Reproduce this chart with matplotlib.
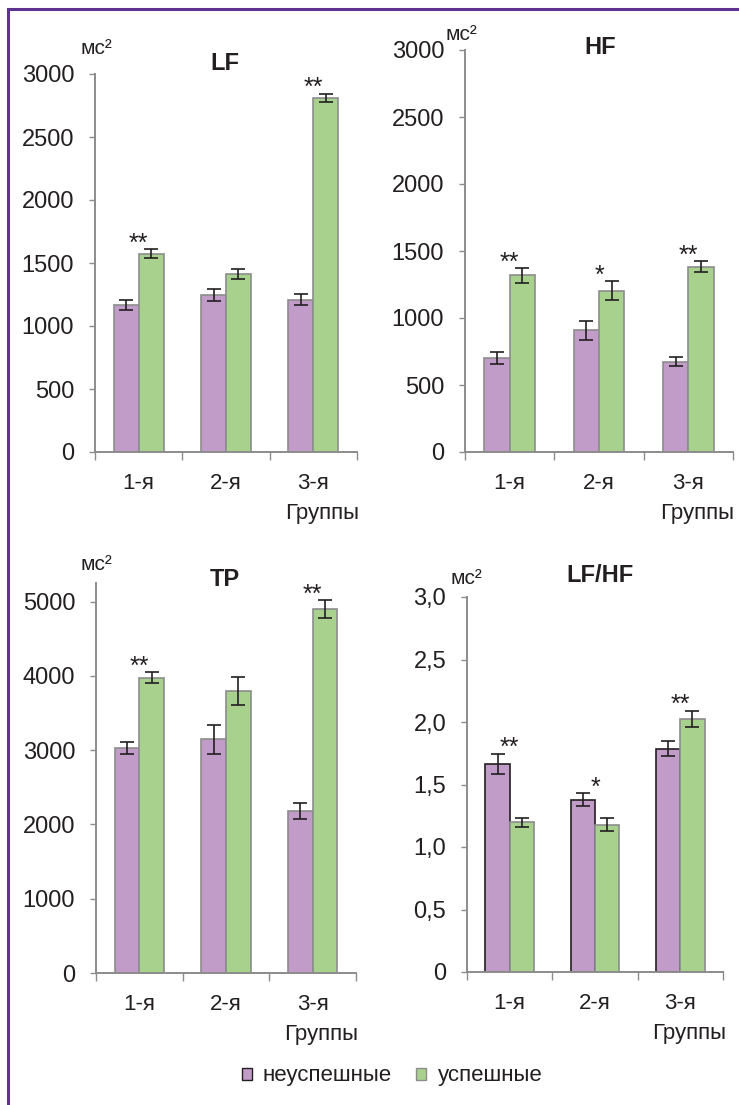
import matplotlib
matplotlib.use("Agg")
import matplotlib.pyplot as plt
from matplotlib.patches import Patch
from matplotlib.lines import Line2D
import numpy as np

plt.rcParams['font.family'] = ['Liberation Sans', 'DejaVu Sans']

# --- Données ---
groups = ['1-я', '2-я', '3-я']
series_names = ['неуспешные', 'успешные']

lf_fail = [1170, 1245, 1210]
lf_fail_err = [40, 45, 46]
lf_succ = [1575, 1415, 2810]
lf_succ_err = [33, 40, 33]
lf_stars = ['**', '', '**']

hf_fail = [700, 908, 675]
hf_fail_err = [46, 70, 35]
hf_succ = [1318, 1205, 1383]
hf_succ_err = [55, 68, 39]
hf_stars = ['**', '*', '**']

tp_fail = [3030, 3145, 2180]
tp_fail_err = [85, 193, 105]
tp_succ = [3975, 3795, 4895]
tp_succ_err = [72, 189, 121]
tp_stars = ['**', '', '**']

ratio_fail = [1.667, 1.379, 1.787]
ratio_fail_err = [0.08, 0.05, 0.062]
ratio_succ = [1.20, 1.179, 2.027]
ratio_succ_err = [0.036, 0.05, 0.064]
ratio_stars = ['**', '*', '**']

lf_ticks = [0, 500, 1000, 1500, 2000, 2500, 3000]
tp_ticks = [0, 1000, 2000, 3000, 4000, 5000]
ratio_ticks = [0, 0.5, 1.0, 1.5, 2.0, 2.5, 3.0]
ratio_ticklabels = ['0', '0,5', '1,0', '1,5', '2,0', '2,5', '3,0']

PURPLE = '#C29CC8'
GREEN = '#A8D18D'
SPINE = '#8C8C8C'
TEXT = '#231F20'
FRAME = '#5E3390'

W, H = 739, 1105


def rect(l, t, r, b):
    """Rectangle d'axes en pixels -> coordonnées figure."""
    return [l / W, 1 - b / H, (r - l) / W, (b - t) / H]


def draw_panel(fig, box, fail, fail_err, succ, succ_err, stars,
               ymax, ticks, ticklabels=None, dark_edge=False):
    ax = fig.add_axes(rect(*box))
    x = np.arange(len(groups)) + 0.5
    w = 0.285
    ax.bar(x - w / 2, fail, w, color=PURPLE,
           edgecolor=TEXT if dark_edge else SPINE, linewidth=1.2, zorder=2)
    ax.bar(x + w / 2, succ, w, color=GREEN, edgecolor=SPINE, linewidth=1.2, zorder=2)
    ax.errorbar(x - w / 2, fail, yerr=fail_err, fmt='none', ecolor=TEXT,
                elinewidth=1.2, capsize=5, capthick=1.2, zorder=3)
    ax.errorbar(x + w / 2, succ, yerr=succ_err, fmt='none', ecolor=TEXT,
                elinewidth=1.2, capsize=5, capthick=1.2, zorder=3)

    # astérisques de significativité, au-dessus de la barre la plus haute
    for i, s in enumerate(stars):
        if not s:
            continue
        top = max(fail[i] + fail_err[i], succ[i] + succ_err[i])
        ax.annotate(s, xy=(x[i], top), xytext=(0, -1), textcoords='offset points',
                    ha='center', va='baseline', fontsize=18, color=TEXT)

    ax.set_xlim(0, len(groups))
    ax.set_ylim(0, ymax)
    ax.set_yticks(ticks)
    if ticklabels is not None:
        ax.set_yticklabels(ticklabels)

    # graduations aux limites des groupes, étiquettes au centre
    ax.set_xticks(np.arange(len(groups) + 1))
    ax.set_xticklabels([])
    ax.set_xticks(x, minor=True)
    ax.set_xticklabels(groups, minor=True)
    ax.tick_params(axis='x', which='major', length=6, width=1, color=SPINE, direction='out')
    ax.tick_params(axis='x', which='minor', length=0, pad=15, labelsize=16, labelcolor=TEXT)
    ax.tick_params(axis='y', length=4, width=1, color=SPINE, pad=11,
                   labelsize=17, labelcolor=TEXT)

    for side in ('top', 'right'):
        ax.spines[side].set_visible(False)
    for side in ('left', 'bottom'):
        ax.spines[side].set_color(SPINE)
        ax.spines[side].set_linewidth(1.4)

    # titre d'axe "Группы"
    ax.annotate('Группы', xy=(2.6, 0), xycoords=('data', 'axes fraction'),
                xytext=(0, -44), textcoords='offset points',
                ha='center', va='center', fontsize=16, color=TEXT)
    return ax


fig = plt.figure(figsize=(W / 100, H / 100), dpi=100)

ax1 = draw_panel(fig, (95, 74, 357, 452), lf_fail, lf_fail_err, lf_succ, lf_succ_err,
                 lf_stars, 3000, lf_ticks)
ax2 = draw_panel(fig, (465, 50, 733, 452), hf_fail, hf_fail_err, hf_succ, hf_succ_err,
                 hf_stars, 3000, lf_ticks)
ax3 = draw_panel(fig, (96, 583, 356, 973), tp_fail, tp_fail_err, tp_succ, tp_succ_err,
                 tp_stars, 5250, tp_ticks)
ax4 = draw_panel(fig, (467, 597, 723, 972), ratio_fail, ratio_fail_err,
                 ratio_succ, ratio_succ_err, ratio_stars, 3.0, ratio_ticks,
                 ratio_ticklabels, dark_edge=True)

# titres des panneaux (placés à la main comme dans l'original)
titles = [('LF', 225, 63), ('HF', 600, 48), ('TP', 225, 579), ('LF/HF', 600, 575)]
for name, px, py in titles:
    fig.text(px / W, 1 - py / H, name, ha='center', va='center',
             fontsize=17, fontweight='bold', color=TEXT)

# unités
units_pos = [(96, 48), (461, 34), (96, 565), (466, 579)]
for px, py in units_pos:
    fig.text(px / W, 1 - py / H, 'мс²', ha='center', va='center', fontsize=15, color=TEXT)

# légende
handles = [Patch(facecolor=PURPLE, edgecolor=TEXT, linewidth=1),
           Patch(facecolor=GREEN, edgecolor=SPINE, linewidth=1)]
fig.legend(handles, series_names, loc='center', bbox_to_anchor=(392 / W, 1 - 1076 / H),
           ncol=2, frameon=False, fontsize=16, handlelength=0.45, handleheight=0.45,
           handletextpad=0.5, columnspacing=1.1, labelcolor=TEXT)

# cadre violet (haut et gauche)
fig.add_artist(Line2D([8 / W, 8 / W], [0, 1 - 8.5 / H], transform=fig.transFigure,
                      color=FRAME, linewidth=2.2))
fig.add_artist(Line2D([8 / W, 1], [1 - 8.5 / H, 1 - 8.5 / H], transform=fig.transFigure,
                      color=FRAME, linewidth=2.2))

fig.savefig('out.png', dpi=100, facecolor='white')
